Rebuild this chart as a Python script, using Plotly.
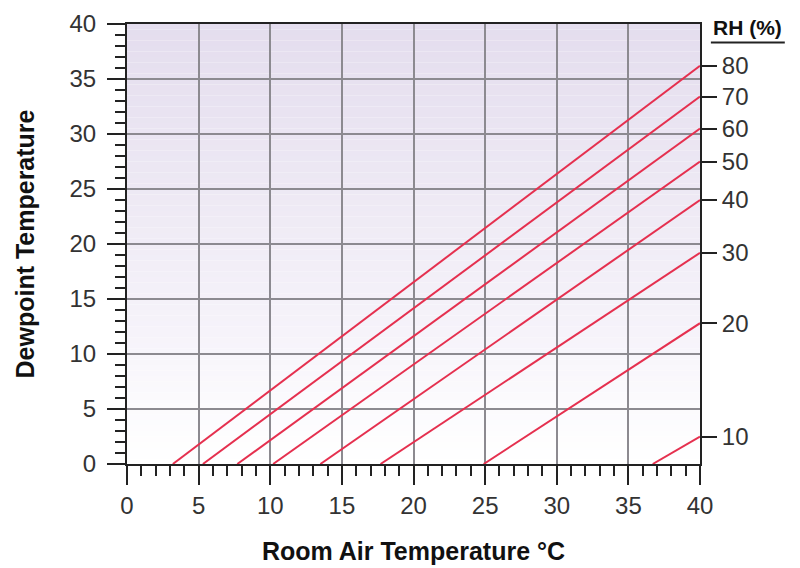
import plotly.graph_objects as go

# ---- data ----
rh_labels = ["80", "70", "60", "50", "40", "30", "20", "10"]
start_room_temp = [3.2, 5.3, 7.7, 10.2, 13.5, 17.7, 24.9, 36.7]   # room temp where dewpoint = 0
end_dewpoint = [36.2, 33.4, 30.5, 27.5, 24.0, 19.2, 12.8, 2.5]     # dewpoint at room temp = 40
x_end = 40
x_ticks = [0, 5, 10, 15, 20, 25, 30, 35, 40]
y_ticks = [0, 5, 10, 15, 20, 25, 30, 35, 40]

RED = "#e5304f"
GRID = "#8c8a90"
AX = "#222222"
FONT = "Liberation Sans"

fig = go.Figure()

# background gradient stripes (decoration), below gridlines
def lerp(c1, c2, t):
    return tuple(round(a + (b - a) * t) for a, b in zip(c1, c2))

stops = [(0, (255, 255, 255)), (6, (251, 250, 253)), (12, (246, 243, 250)),
         (22, (239, 235, 245)), (40, (228, 221, 238))]
def grad(v):
    for (v0, c0), (v1, c1) in zip(stops[:-1], stops[1:]):
        if v0 <= v <= v1:
            return lerp(c0, c1, (v - v0) / (v1 - v0))
    return stops[-1][1]

shapes = []
n = 80
for i in range(n):
    y0 = 40 * i / n
    y1 = 40 * (i + 1) / n
    c = grad((y0 + y1) / 2)
    shapes.append(dict(type="rect", xref="x", yref="y", x0=0, x1=40, y0=y0, y1=y1,
                       fillcolor="rgb(%d,%d,%d)" % c, line=dict(width=0), layer="below"))

# underline under "RH (%)"
shapes.append(dict(type="line", xref="paper", yref="paper", x0=1.019, x1=1.148,
                   y0=0.958, y1=0.958, line=dict(color=AX, width=2)))

for lab, sx, ey in zip(rh_labels, start_room_temp, end_dewpoint):
    fig.add_trace(go.Scatter(x=[sx, x_end], y=[0, ey], mode="lines",
                             line=dict(color=RED, width=2), name="RH " + lab,
                             showlegend=False, hoverinfo="skip"))

# dummy trace for right axis
fig.add_trace(go.Scatter(x=[None], y=[None], yaxis="y2", showlegend=False))

TICKFONT = dict(size=24, color="#333333", family=FONT)

fig.update_layout(
    width=800, height=568,
    margin=dict(l=119, r=108, t=16, b=112, autoexpand=False),
    paper_bgcolor="white", plot_bgcolor="rgba(0,0,0,0)",
    shapes=shapes,
    font=dict(family=FONT, size=20, color="#333333"),
    xaxis=dict(range=[0, 40], tickvals=x_ticks, ticks="outside", ticklen=19,
               tickwidth=2, tickcolor=AX, showline=True, linecolor=AX, linewidth=2,
               mirror=True, showgrid=True, gridcolor=GRID, gridwidth=1.5,
               zeroline=False, tickfont=TICKFONT, automargin=False,
               minor=dict(dtick=1, ticks="outside", ticklen=10, tickwidth=1.5,
                          tickcolor=AX, showgrid=False),
               title=dict(text="<b>Room Air Temperature °C</b>",
                          font=dict(size=25, color="#111111"), standoff=25)),
    yaxis=dict(range=[0, 40], tickvals=y_ticks, ticks="outside", ticklen=18,
               tickwidth=2, tickcolor=AX, showline=True, linecolor=AX, linewidth=2,
               mirror=True, showgrid=True, gridcolor=GRID, gridwidth=1.5,
               zeroline=False, tickfont=TICKFONT, automargin=False,
               ticklabelstandoff=6,
               minor=dict(dtick=1, ticks="outside", ticklen=10, tickwidth=1.5,
                          tickcolor=AX, showgrid=False),
               title=dict(text="<b>Dewpoint Temperature</b>",
                          font=dict(size=25, color="#111111"), standoff=28)),
    yaxis2=dict(range=[0, 40], overlaying="y", side="right", tickvals=end_dewpoint,
                ticktext=rh_labels, ticks="outside", ticklen=16, tickwidth=2,
                tickcolor=AX, showgrid=False, showline=False, zeroline=False,
                automargin=False, tickfont=TICKFONT),
    annotations=[dict(text="<b>RH (%)</b>", xref="paper", yref="paper",
                      x=1.083, y=0.962, xanchor="center", yanchor="bottom",
                      showarrow=False, font=dict(size=21, color="#111111"))],
)

fig.write_html("out.html")
